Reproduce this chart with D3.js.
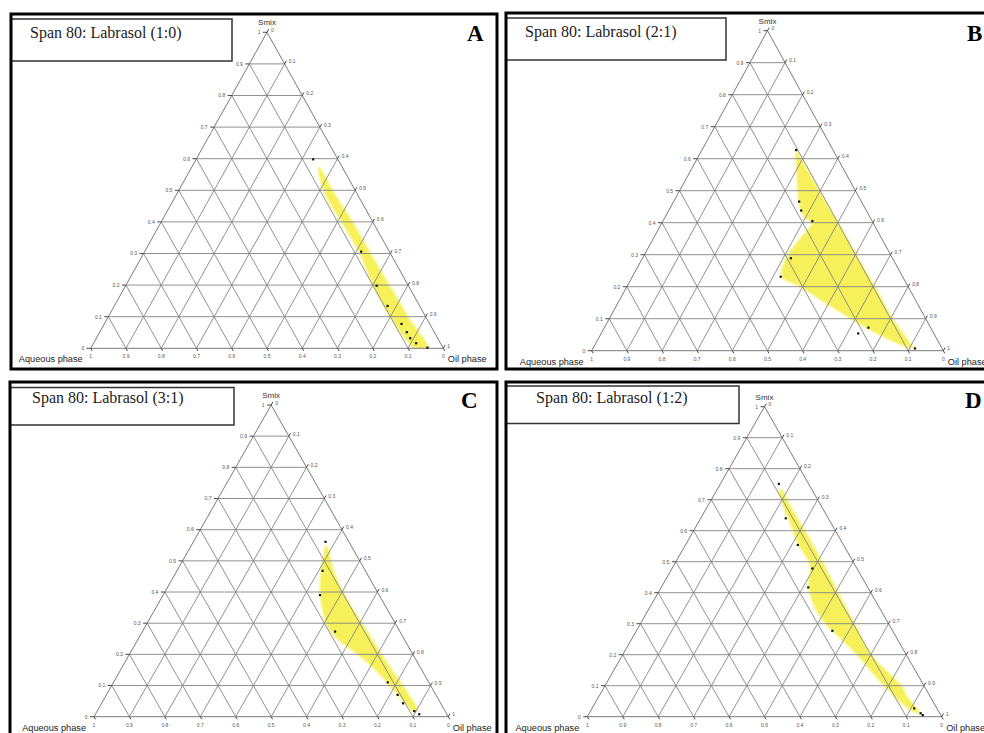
<!DOCTYPE html>
<html>
<head>
<meta charset="utf-8">
<script src="https://cdn.jsdelivr.net/npm/d3@7"></script>
<style>
  body { margin: 0; background: #fff; }
  svg { display: block; }
</style>
</head>
<body>
<svg id="chart" width="984" height="733"></svg>
<script>
// Tick values shared by the three ternary axes
const ticks = [0, 0.1, 0.2, 0.3, 0.4, 0.5, 0.6, 0.7, 0.8, 0.9, 1];
const apexName = "Smix";
const leftName = "Aqueous phase";
const rightName = "Oil phase";

const titles = [
  "Span 80: Labrasol (1:0)",
  "Span 80: Labrasol (2:1)",
  "Span 80: Labrasol (3:1)",
  "Span 80: Labrasol (1:2)"
];
const letters = ["A", "B", "C", "D"];

// Microemulsion regions, as [Smix fraction, oil fraction]
const regionA = [
  [0.575, 0.358], [0.498, 0.411], [0.398, 0.513], [0.297, 0.615], [0.198, 0.702],
  [0.100, 0.799], [0.000, 0.920], [0.000, 0.957], [0.100, 0.851], [0.198, 0.750],
  [0.297, 0.648], [0.398, 0.546], [0.498, 0.439], [0.564, 0.373]
];
const regionB = [
  [0.627, 0.268], [0.554, 0.306], [0.492, 0.340], [0.445, 0.370], [0.414, 0.400],
  [0.400, 0.426], [0.351, 0.417], [0.299, 0.407], [0.231, 0.425], [0.200, 0.493],
  [0.153, 0.582], [0.101, 0.684], [0.059, 0.771], [0.028, 0.844], [0.007, 0.902],
  [0.007, 0.911], [0.099, 0.808], [0.200, 0.706], [0.299, 0.604], [0.400, 0.502],
  [0.497, 0.401], [0.598, 0.298]
];
const regionC = [
  [0.551, 0.379], [0.500, 0.395], [0.444, 0.416], [0.398, 0.439], [0.337, 0.477],
  [0.283, 0.520], [0.241, 0.574], [0.193, 0.654], [0.134, 0.740], [0.086, 0.802],
  [0.037, 0.864], [0.016, 0.891], [0.021, 0.902], [0.075, 0.850], [0.123, 0.797],
  [0.193, 0.720], [0.262, 0.648], [0.337, 0.568], [0.398, 0.505], [0.476, 0.437],
  [0.542, 0.390]
];
const regionD = [
  [0.734, 0.175], [0.683, 0.210], [0.618, 0.265], [0.554, 0.319], [0.489, 0.384],
  [0.425, 0.411], [0.360, 0.458], [0.301, 0.520], [0.253, 0.587], [0.199, 0.661],
  [0.102, 0.784], [0.038, 0.873], [0.011, 0.924], [0.011, 0.933], [0.070, 0.866],
  [0.099, 0.838], [0.199, 0.703], [0.299, 0.606], [0.400, 0.509], [0.500, 0.414],
  [0.600, 0.315], [0.699, 0.215], [0.731, 0.186]
];

// Titration points, as [Smix fraction, oil fraction]
const pointsA = [
  [0.598, 0.332], [0.306, 0.614], [0.198, 0.712], [0.134, 0.775], [0.077, 0.843],
  [0.051, 0.871], [0.032, 0.890], [0.016, 0.915], [0.002, 0.954]
];
const pointsB = [
  [0.627, 0.268], [0.466, 0.357], [0.438, 0.377], [0.405, 0.425], [0.289, 0.422],
  [0.231, 0.422], [0.072, 0.751], [0.054, 0.731], [0.007, 0.916]
];
const pointsC = [
  [0.561, 0.373], [0.468, 0.411], [0.390, 0.443], [0.273, 0.544], [0.110, 0.774],
  [0.070, 0.822], [0.043, 0.851], [0.018, 0.895], [0.008, 0.914]
];
const pointsD = [
  [0.751, 0.165], [0.640, 0.240], [0.554, 0.317], [0.478, 0.396], [0.417, 0.415],
  [0.277, 0.553], [0.027, 0.909], [0.011, 0.935], [0.005, 0.944]
];

const regions = [regionA, regionB, regionC, regionD];
const pointSets = [pointsA, pointsB, pointsC, pointsD];

// Panel layout: frame, title box, title text, letter, triangle placement
const layout = [
  { frame: [11, 14, 486, 355], box: [11, 19, 221, 42], text: [30, 38], letter: [467, 41],
    tri: { xL: 90.7, xR: 443.3, yB: 348.3, yT: 32.3 } },
  { frame: [506, 13, 500, 356], box: [506, 18, 220, 42], text: [525, 37], letter: [967, 41],
    tri: { xL: 591.7, xR: 943.3, yB: 350.7, yT: 30.7 } },
  { frame: [10, 382, 487, 400], box: [10, 387.5, 224, 37.5], text: [32, 403], letter: [461, 408],
    tri: { xL: 94, xR: 448.3, yB: 716.7, yT: 405 } },
  { frame: [506, 382, 500, 400], box: [506, 386, 233, 37.5], text: [536, 403], letter: [965, 408],
    tri: { xL: 587.3, xR: 941.7, yB: 716.7, yT: 406.7 } }
];

const svg = d3.select("#chart");
const defs = svg.append("defs");
defs.append("filter").attr("id", "soft")
  .attr("x", "-10%").attr("y", "-10%").attr("width", "120%").attr("height", "120%")
  .append("feGaussianBlur").attr("stdDeviation", 1.1);

const fmt = v => String(+v.toFixed(1));
const gridColor = "#858585";
const labelFont = "'Liberation Sans', Arial, sans-serif";

layout.forEach((L, i) => {
  const g = svg.append("g");
  const t = L.tri;

  // scales: Smix runs bottom -> apex; horizontal position from oil + Smix/2
  const y = d3.scaleLinear().domain([0, 1]).range([t.yB, t.yT]);
  const x = d3.scaleLinear().domain([0, 1]).range([t.xL, t.xR]);
  const pos = ([s, o]) => [x(o + s / 2), y(s)];

  // clip to the triangle
  const clipId = "tri" + i;
  defs.append("clipPath").attr("id", clipId)
    .append("path")
    .attr("d", d3.line()([pos([0, 0]), pos([0, 1]), pos([1, 0])]) + "Z");

  // region
  const area = d3.line().curve(d3.curveCatmullRomClosed.alpha(0.5));
  g.append("g").attr("clip-path", `url(#${clipId})`)
    .append("path")
    .attr("d", area(regions[i].map(pos)))
    .attr("fill", "#f6f15a")
    .attr("filter", "url(#soft)");

  // grid
  const inner = ticks.filter(v => v > 0 && v < 1);
  const seg = [];
  inner.forEach(v => {
    seg.push([pos([v, 0]), pos([v, 1 - v])]);           // constant Smix
    seg.push([pos([0, v]), pos([1 - v, v])]);           // constant oil
    seg.push([pos([0, 1 - v]), pos([1 - v, 0])]);       // constant water
  });
  g.append("g").selectAll("line").data(seg).join("line")
    .attr("x1", d => d[0][0]).attr("y1", d => d[0][1])
    .attr("x2", d => d[1][0]).attr("y2", d => d[1][1])
    .attr("stroke", gridColor).attr("stroke-width", 0.9);

  g.append("path")
    .attr("d", d3.line()([pos([0, 0]), pos([0, 1]), pos([1, 0])]) + "Z")
    .attr("fill", "none").attr("stroke", "#7a7a7a").attr("stroke-width", 1);

  // tick direction along the triangle sides
  const dx = (t.xR - t.xL) / 2, dy = t.yB - t.yT;
  const len = Math.hypot(dx, dy);
  const ux = dx / len, uy = dy / len;

  const tk = g.append("g").attr("stroke", "#333").attr("stroke-width", 0.9);
  const lab = g.append("g").attr("font-family", labelFont).attr("font-size", 5).attr("fill", "#555");

  ticks.forEach(v => {
    // Smix axis (left side)
    const pl = pos([v, 0]);
    tk.append("line").attr("x1", pl[0]).attr("y1", pl[1]).attr("x2", pl[0] - 4).attr("y2", pl[1]);
    lab.append("text").attr("x", pl[0] - 6.5).attr("y", pl[1] + 1.8).attr("text-anchor", "end").text(fmt(v));
    // oil axis (right side)
    const pr = pos([1 - v, v]);
    tk.append("line").attr("x1", pr[0]).attr("y1", pr[1]).attr("x2", pr[0] + ux * 3.5).attr("y2", pr[1] - uy * 3.5);
    lab.append("text").attr("x", pr[0] + 4).attr("y", pr[1] - 0.5).text(fmt(v));
    // water axis (bottom)
    const pb = pos([0, 1 - v]);
    tk.append("line").attr("x1", pb[0]).attr("y1", pb[1]).attr("x2", pb[0] + ux * 3).attr("y2", pb[1] + uy * 3);
    lab.append("text").attr("x", pb[0]).attr("y", pb[1] + 10).attr("text-anchor", "middle").text(fmt(v));
  });

  // points
  g.append("g").selectAll("rect").data(pointSets[i]).join("rect")
    .attr("x", d => pos(d)[0] - 1.1).attr("y", d => pos(d)[1] - 1.1)
    .attr("width", 2.2).attr("height", 2.2).attr("fill", "#111");

  // axis names
  const apex = pos([1, 0]);
  g.append("text").attr("x", apex[0]).attr("y", apex[1] - 7)
    .attr("text-anchor", "middle").attr("font-family", labelFont)
    .attr("font-size", 8).attr("fill", "#333").text(apexName);
  g.append("text").attr("x", t.xL - 8).attr("y", t.yB + 14)
    .attr("text-anchor", "end").attr("font-family", labelFont)
    .attr("font-size", 9.2).attr("fill", "#222").text(leftName);
  g.append("text").attr("x", t.xR + 4.5).attr("y", t.yB + 14)
    .attr("font-family", labelFont)
    .attr("font-size", 9.2).attr("fill", "#222").text(rightName);

  // title box
  g.append("rect")
    .attr("x", L.box[0]).attr("y", L.box[1]).attr("width", L.box[2]).attr("height", L.box[3])
    .attr("fill", "#fff").attr("stroke", "#333").attr("stroke-width", 1.5);
  g.append("text").attr("x", L.text[0]).attr("y", L.text[1])
    .attr("font-family", "'Liberation Serif', 'Times New Roman', serif")
    .attr("font-size", 16).attr("fill", "#222").text(titles[i]);

  // panel letter
  g.append("text").attr("x", L.letter[0]).attr("y", L.letter[1])
    .attr("font-family", "'Liberation Serif', 'Times New Roman', serif")
    .attr("font-weight", "bold").attr("font-size", 23).attr("fill", "#000").text(letters[i]);

  // frame
  g.append("rect")
    .attr("x", L.frame[0]).attr("y", L.frame[1]).attr("width", L.frame[2]).attr("height", L.frame[3])
    .attr("fill", "none").attr("stroke", "#000").attr("stroke-width", 3);
});
</script>
</body>
</html>
